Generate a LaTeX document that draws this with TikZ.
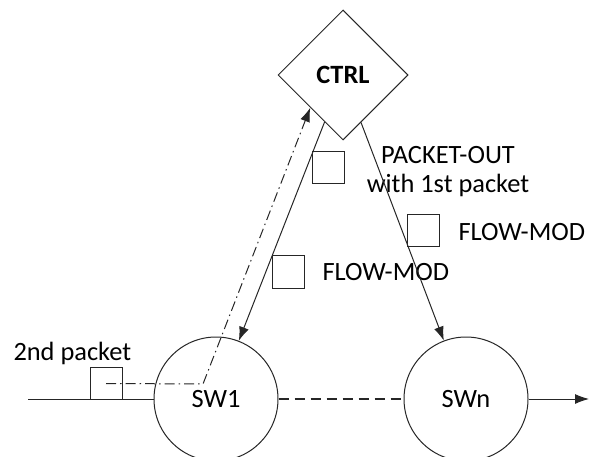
\documentclass[tikz,border=0pt]{standalone}
\usepackage{fontspec}
\setmainfont{Carlito}
\usetikzlibrary{positioning,shapes.geometric,arrows.meta}

\begin{document}
\begin{tikzpicture}[x=1bp,y=-1bp,line width=1bp,draw=black!85,
    txt/.style={font=\fontsize{26.5}{29}\selectfont,inner sep=0pt},
    switch/.style={circle,draw,minimum size=124bp,inner sep=0pt,txt},
    pktbox/.style={draw,minimum size=32bp,inner sep=0pt},
    tip/.style={-{Latex[length=14bp,width=10bp]}}]
  \useasboundingbox (0,0) rectangle (589,457);
  % controller
  \node[diamond,draw,minimum width=130bp,minimum height=130bp,inner sep=0pt,
        txt,font=\fontsize{26.5}{29}\selectfont\bfseries] (ctrl) at (343,75) {CTRL};
  % switches
  \node[switch] (sw1) at (216,399) {SW1};
  \node[switch] (swn) at (466,399) {SWn};
  \coordinate (in) at (28,399);
  \coordinate (out) at (589,399);
  \coordinate (turn) at (203,384);

  % packets
  \node[pktbox] (pkt2) at (106,383.5) {};
  \node[pktbox] (pktout) at (328,168) {};
  \node[pktbox] (modn) at (423,231) {};
  \node[pktbox] (mod1) at (288,272) {};

  % labels
  \node[txt,anchor=west] (lpkt2) at (13,353) {2nd packet};
  \node[txt,align=center] (lout) at (448,172) {PACKET-OUT\\with 1st packet};
  \node[txt,anchor=west] (lmodn) at (458,232) {FLOW-MOD};
  \node[txt,anchor=west] (lmod1) at (322,272) {FLOW-MOD};

  % data path
  \draw (in) -- (sw1);
  \draw[line width=1.5bp,dash pattern=on 10bp off 6bp] (sw1) -- (swn);
  \draw[tip] (swn) -- (out);

  % control path
  \draw[tip] (ctrl) -- (sw1);
  \draw[tip] (ctrl) -- (swn);
  \draw[tip,dash pattern=on 10bp off 4bp on 1.5bp off 4bp]
    (pkt2.center) -- (turn) -- (ctrl.south west);
\end{tikzpicture}
\end{document}
